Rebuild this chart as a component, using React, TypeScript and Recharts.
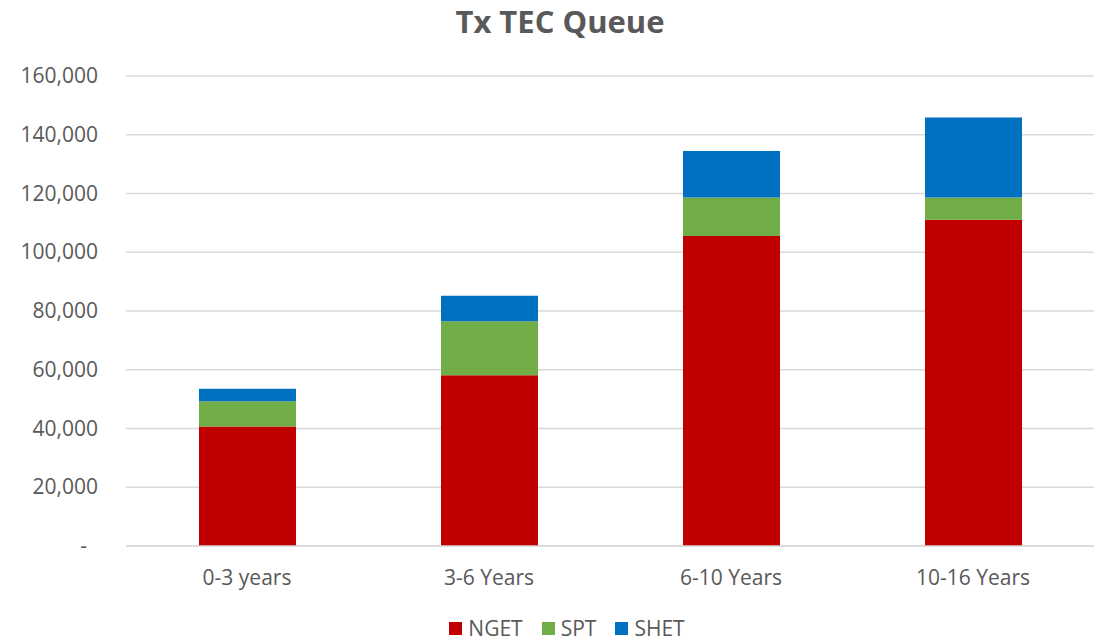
import { Bar, BarChart, CartesianGrid, Legend, XAxis, YAxis } from "recharts";

const categories = ["0-3 years", "3-6 Years", "6-10 Years", "10-16 Years"];
const nget = [40700, 58100, 105500, 111100];
const spt = [8600, 18400, 13100, 7500];
const shet = [4200, 8700, 15900, 27300];
const yTicks = [0, 20000, 40000, 60000, 80000, 100000, 120000, 140000, 160000];

const TEXT = "#595959";
const FONT = "'Open Sans', sans-serif";
const SERIES = [
	{ key: "NGET", color: "#C00000" },
	{ key: "SPT", color: "#70AD47" },
	{ key: "SHET", color: "#0070C0" },
];

const data = categories.map((name, i) => ({
	name,
	NGET: nget[i],
	SPT: spt[i],
	SHET: shet[i],
}));

function YTick(props: any) {
	const { x, y, payload } = props;
	const v = payload.value as number;
	const label = v === 0 ? "-" : v.toLocaleString("en-US");
	return (
		<text
			x={v === 0 ? x - 11 : x}
			y={y}
			dy={7}
			textAnchor="end"
			fill={TEXT}
			fontSize={21}
			fontFamily={FONT}
		>
			{label}
		</text>
	);
}

function LegendBox() {
	return (
		<div
			style={{
				display: "flex",
				justifyContent: "center",
				gap: 19,
				fontSize: 21,
				lineHeight: "21px",
				color: TEXT,
				fontFamily: FONT,
				paddingLeft: 30,
			}}
		>
			{SERIES.map((s) => (
				<span key={s.key} style={{ display: "flex", alignItems: "center", gap: 6 }}>
					<span style={{ width: 13, height: 13, background: s.color, display: "inline-block" }} />
					{s.key}
				</span>
			))}
		</div>
	);
}

export default function App() {
	return (
		<div style={{ margin: "-8px -8px 0 -8px", width: 1104, height: 642, background: "#fff", position: "relative" }}>
			<BarChart
				width={1104}
				height={642}
				data={data}
				margin={{ top: 76, right: 10, bottom: 4, left: 0 }}
				style={{ fontFamily: FONT }}
			>
				<text
					x={560}
					y={33}
					textAnchor="middle"
					fill={TEXT}
					fontSize={31}
					fontWeight={700}
					fontFamily={FONT}
				>
					Tx TEC Queue
				</text>
				<CartesianGrid vertical={false} stroke="#D9D9D9" strokeWidth={1.3} />
				<XAxis
					dataKey="name"
					axisLine={{ stroke: "#D9D9D9", strokeWidth: 1.3 }}
					tickLine={false}
					tick={{ fill: TEXT, fontSize: 21, fontFamily: FONT }}
					tickMargin={18}
					height={58}
				/>
				<YAxis
					domain={[0, 160000]}
					ticks={yTicks}
					axisLine={false}
					tickLine={false}
					width={126}
					tickMargin={22}
					tick={<YTick />}
				/>
				<Legend
					height={34}
					content={<LegendBox />}
					wrapperStyle={{ top: 618, left: 0, width: 1104, height: 34 }}
				/>
				{SERIES.map((s) => (
					<Bar
						key={s.key}
						dataKey={s.key}
						stackId="a"
						fill={s.color}
						barSize={97}
						isAnimationActive={false}
					/>
				))}
			</BarChart>
		</div>
	);
}
